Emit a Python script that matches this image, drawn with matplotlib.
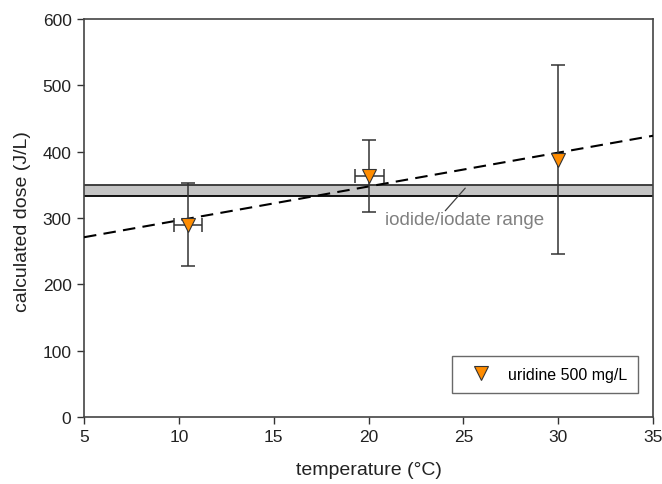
import matplotlib
matplotlib.use("Agg")
import matplotlib.pyplot as plt
import numpy as np

plt.rcParams['font.family'] = ['Liberation Sans', 'DejaVu Sans']

# data
temps = [10.5, 20.05, 30.0]
dose = [290, 363, 388]
dose_err = [63, 54, 142]
temp_err = [0.74, 0.77, 0.0]
fit_x = [5, 35]
fit_y = [271, 424]
band_low, band_high = 333, 350
xticks = [5, 10, 15, 20, 25, 30, 35]
yticks = [0, 100, 200, 300, 400, 500, 600]

fig = plt.figure(figsize=(6.62, 4.85), dpi=100)
ax = fig.add_axes([84/662, 1-418/485, (653-84)/662, (418-20)/485])

ax.axhspan(band_low, band_high, facecolor='#c4c4c4', edgecolor='none', zorder=1)
ax.axhline(band_low, color='black', lw=1.3, zorder=2)
ax.axhline(band_high, color='#333333', lw=1.3, zorder=2)

ax.plot(fit_x, fit_y, color='black', lw=1.5, dashes=(6, 3.5), zorder=3)

ax.errorbar(temps, dose, yerr=dose_err, xerr=temp_err, fmt='none',
            ecolor='#333333', elinewidth=1.1, capsize=5, capthick=1.1, zorder=4)
ax.plot(temps, dose, linestyle='none', marker='v', markersize=10.5,
        markerfacecolor='#ff8c00', markeredgecolor='#333333', markeredgewidth=0.8,
        zorder=5, label='uridine 500 mg/L')

# label with leader line
ax.text(20.85, 297, 'iodide/iodate range', color='#808080', fontsize=13.5,
        ha='left', va='center', zorder=6)
ax.annotate('', xy=(25.1, 345), xytext=(24.05, 311),
            arrowprops=dict(arrowstyle='-', color='#404040', lw=0.9,
                            shrinkA=0, shrinkB=0))

ax.set_xlim(5, 35)
ax.set_ylim(0, 600)
ax.set_xticks(xticks)
ax.set_yticks(yticks)
ax.tick_params(direction='out', length=5, width=1, colors='#333333',
               labelsize=12.5, labelcolor='#222222', pad=4)
for s in ax.spines.values():
    s.set_color('#444444')
    s.set_linewidth(1.2)

ax.set_xlabel('temperature (°C)', fontsize=14, color='#222222')
ax.set_ylabel('calculated dose (J/L)', fontsize=14, color='#222222')
ax.yaxis.set_label_coords(31/662, 1-222/485, transform=fig.transFigure)
ax.xaxis.set_label_coords(369/662, 1-462/485, transform=fig.transFigure)

leg = ax.legend(loc='lower right', bbox_to_anchor=(638/662, 1-394/485),
                bbox_transform=fig.transFigure, frameon=True, fancybox=False,
                fontsize=11.5, borderpad=0.7, handletextpad=0.55, borderaxespad=0,
                handlelength=2.25)
leg.get_frame().set_edgecolor('#444444')
leg.get_frame().set_linewidth(1.0)

fig.savefig('out.png', dpi=100)
